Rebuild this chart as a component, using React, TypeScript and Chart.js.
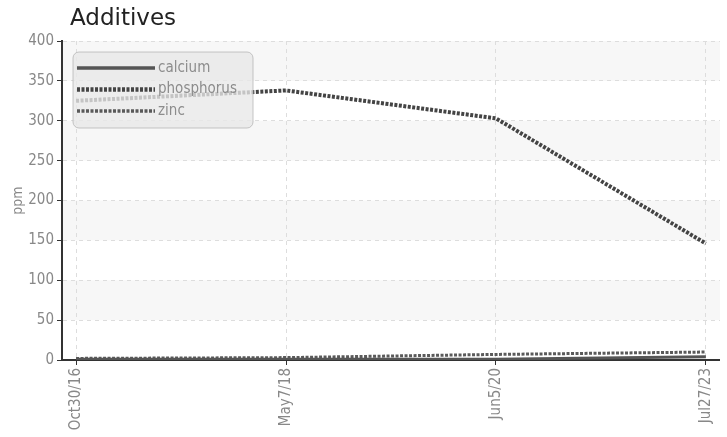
import { useEffect, useRef } from 'react';
import { Chart, ChartConfiguration, Plugin, registerables } from 'chart.js';

Chart.register(...registerables);

// values
const dateLabels = ['Oct30/16', 'May7/18', 'Jun5/20', 'Jul27/23'];
const calcium = [1, 1, 1, 4];
const phosphorus = [325, 338, 303, 146];
const zinc = [2, 3, 7, 10];
const yMin = 0;
const yMax = 400;
const yStep = 50;

const FONT = '"DejaVu Sans Condensed", "Liberation Sans Narrow", "DejaVu Sans", sans-serif';

// light bands every other step, under the grid
const bandsPlugin: Plugin<'line'> = {
  id: 'bands',
  beforeDraw(chart) {
    const { ctx, chartArea } = chart;
    const y = chart.scales.y;
    ctx.save();
    ctx.fillStyle = '#f7f7f7';
    for (let v = yMin + yStep; v < yMax; v += yStep * 2) {
      const top = y.getPixelForValue(v + yStep);
      const bottom = y.getPixelForValue(v);
      ctx.fillRect(chartArea.left, top, chartArea.right - chartArea.left, bottom - top);
    }
    ctx.restore();
  },
};

// legend box sitting inside the plot, drawn over the lines
const insideLegend: Plugin<'line'> = {
  id: 'insideLegend',
  afterDatasetsDraw(chart) {
    const { ctx, chartArea } = chart;
    const x0 = chartArea.left + 11;
    const y0 = chartArea.top + 11;
    const w = 180;
    const h = 76;
    ctx.save();
    ctx.beginPath();
    ctx.roundRect(x0, y0, w, h, 6);
    ctx.fillStyle = 'rgba(232,232,232,0.78)';
    ctx.fill();
    ctx.strokeStyle = 'rgba(175,175,175,0.7)';
    ctx.lineWidth = 1;
    ctx.stroke();
    ctx.font = '15px ' + FONT;
    ctx.textBaseline = 'middle';
    chart.data.datasets.forEach((ds: any, i) => {
      const ly = y0 + 16 + i * 21.5;
      ctx.beginPath();
      ctx.setLineDash(ds.borderDash || []);
      ctx.lineWidth = ds.borderWidth + 0.5;
      ctx.strokeStyle = ds.borderColor;
      ctx.moveTo(x0 + 4, ly);
      ctx.lineTo(x0 + 82, ly);
      ctx.stroke();
      ctx.setLineDash([]);
      ctx.fillStyle = '#8c8c8c';
      ctx.fillText(ds.label, x0 + 85, ly);
    });
    ctx.restore();
  },
};

export default function App() {
  const canvasRef = useRef<HTMLCanvasElement>(null);
  const chartRef = useRef<Chart | null>(null);

  useEffect(() => {
    if (!canvasRef.current) return;
    if (chartRef.current) chartRef.current.destroy();

    const toPoints = (arr: number[]) => arr.map((v, i) => ({ x: i, y: v }));

    const config: ChartConfiguration<'line'> = {
      type: 'line',
      data: {
        datasets: [
          {
            label: 'calcium',
            data: toPoints(calcium),
            borderColor: '#555',
            borderWidth: 3,
            pointRadius: 0,
          },
          {
            label: 'phosphorus',
            data: toPoints(phosphorus),
            borderColor: '#444',
            borderWidth: 4,
            borderDash: [3, 1.5],
            pointRadius: 0,
          },
          {
            label: 'zinc',
            data: toPoints(zinc),
            borderColor: '#5a5a5a',
            borderWidth: 3,
            borderDash: [3, 1.5],
            pointRadius: 0,
          },
        ],
      },
      options: {
        responsive: true,
        maintainAspectRatio: false,
        animation: false,
        layout: { padding: { left: 8, top: 41, right: 5, bottom: 0 } },
        plugins: {
          legend: { display: false },
          tooltip: { enabled: false },
        },
        scales: {
          x: {
            type: 'linear',
            min: -0.067,
            max: dateLabels.length - 1 + 0.067,
            afterBuildTicks: (s) => {
              s.ticks = dateLabels.map((_, i) => ({ value: i }));
            },
            afterFit: (s) => {
              s.height = 77;
            },
            ticks: {
              autoSkip: false,
              minRotation: 90,
              maxRotation: 90,
              padding: 3,
              color: '#888',
              font: { family: FONT, size: 15 },
              callback: (v) => dateLabels[Number(v)],
            },
            grid: {
              color: '#ddd',
              tickColor: '#333',
              tickLength: 5,
              tickBorderDash: [],
            },
            border: { display: true, color: '#333', width: 2, dash: [4, 4] },
          },
          y: {
            min: yMin,
            max: yMax,
            afterFit: (s) => {
              s.width = 54;
            },
            ticks: {
              stepSize: yStep,
              padding: 3,
              color: '#888',
              font: { family: FONT, size: 15 },
            },
            title: {
              display: true,
              text: 'ppm',
              color: '#888',
              padding: 2,
              font: { family: FONT, size: 14 },
            },
            grid: {
              color: '#ddd',
              tickColor: '#333',
              tickLength: 5,
              tickBorderDash: [],
            },
            border: { display: true, color: '#333', width: 2, dash: [4, 4] },
          },
        },
      },
      plugins: [bandsPlugin, insideLegend],
    };

    chartRef.current = new Chart(canvasRef.current, config);

    return () => {
      if (chartRef.current) {
        chartRef.current.destroy();
        chartRef.current = null;
      }
    };
  }, []);

  return (
    <div style={{ position: 'absolute', left: 0, top: 0, width: 727, height: 437, background: '#fff' }}>
      <div
        style={{
          position: 'absolute',
          left: 70,
          top: 4,
          fontFamily: '"DejaVu Sans", sans-serif',
          fontSize: 23,
          lineHeight: '27px',
          color: '#222',
        }}
      >
        Additives
      </div>
      <canvas ref={canvasRef}></canvas>
    </div>
  );
}
